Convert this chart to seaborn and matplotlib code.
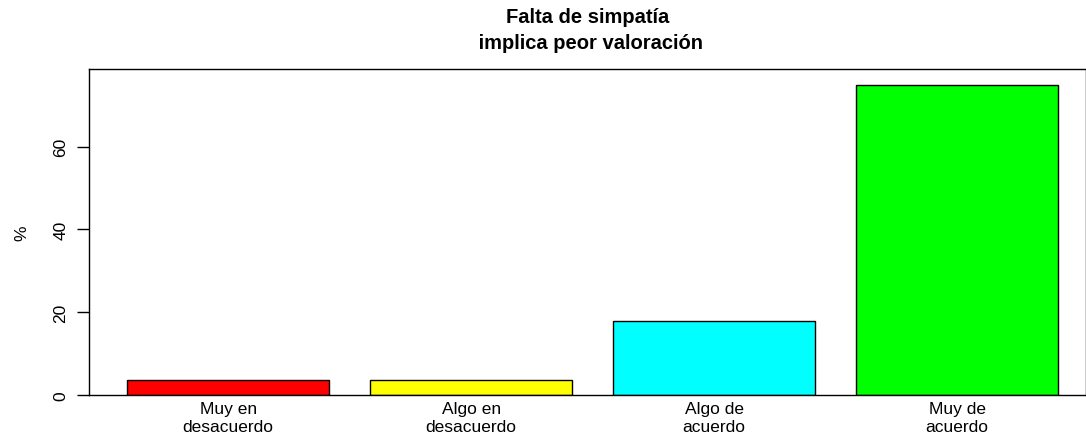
import pandas as pd
import matplotlib
matplotlib.use("Agg")
import matplotlib.pyplot as plt
import seaborn as sns

# respuestas (n = 28) en porcentaje
categorias = ["Muy en\ndesacuerdo", "Algo en\ndesacuerdo", "Algo de\nacuerdo", "Muy de\nacuerdo"]
porcentajes = [3.57, 3.57, 17.86, 75.0]
colores = ["#FF0000", "#FFFF00", "#00FFFF", "#00FF00"]
y_ticks = [0, 20, 40, 60]

df = pd.DataFrame({"cat": categorias, "pct": porcentajes})

sns.set_style("white")
plt.rcParams["font.family"] = ["Liberation Sans", "DejaVu Sans"]
plt.rcParams["text.color"] = "black"
plt.rcParams["axes.labelcolor"] = "black"
plt.rcParams["xtick.color"] = "black"
plt.rcParams["ytick.color"] = "black"

fig = plt.figure(figsize=(10.86, 4.39), dpi=100)
ax = fig.add_axes([0.082, 0.098, 0.918, 0.7425])

sns.barplot(data=df, x="cat", y="pct", hue="cat", palette=colores, legend=False,
            width=0.833, edgecolor="black", linewidth=1, saturation=1, ax=ax)

ax.set_xlim(-0.572, 3.53)
ax.set_ylim(0, 78.75)
ax.set_yticks(y_ticks)
ax.set_yticklabels([str(t) for t in y_ticks], rotation=90, va="center", fontsize=12.5)
ax.tick_params(axis="y", direction="out", length=9, width=1, color="black", pad=6, left=True)
ax.tick_params(axis="x", length=0, pad=4, labelsize=12.5)
for lbl in ax.get_xticklabels():
    lbl.set_linespacing(1.25)
for s in ax.spines.values():
    s.set_color("black")
    s.set_linewidth(1)

ax.set_xlabel("")
ax.set_ylabel("%", fontsize=12.5, labelpad=17)
ax.set_title("Falta de simpatía\n implica peor valoración", fontsize=14.5,
             fontweight="bold", pad=15, linespacing=1.45, color="black")

fig.savefig("out.png", dpi=100)
